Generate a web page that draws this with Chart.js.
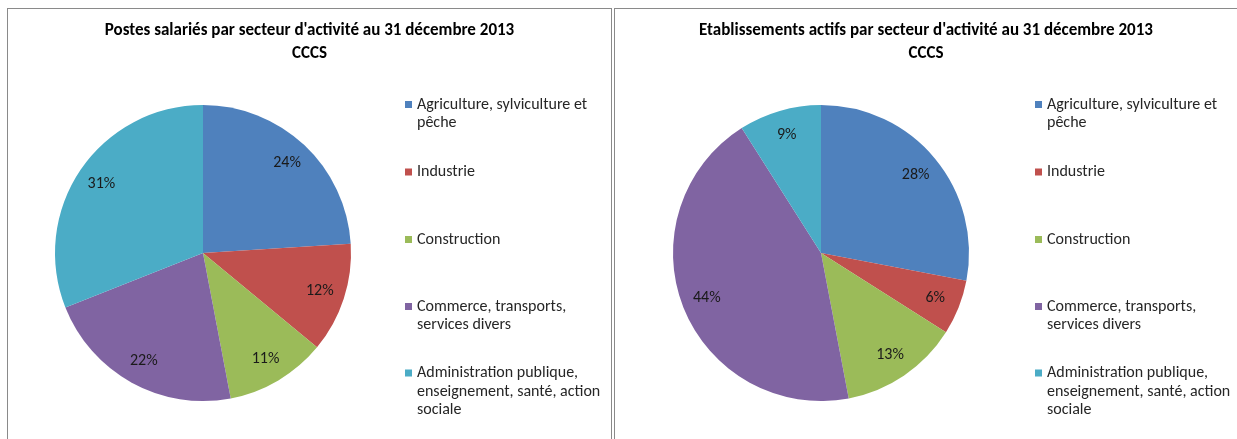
<!DOCTYPE html>
<html>
<head>
<meta charset="utf-8">
<script src="https://cdn.jsdelivr.net/npm/chart.js@4.4.0/dist/chart.umd.min.js"></script>
<style>
  body { margin: 0; background: #fff; width: 1237px; height: 439px; overflow: hidden; position: relative; }
  .panel { position: absolute; top: 8px; height: 445px; border: 1px solid #8a8a8a; box-sizing: border-box; background: #fff; }
  #p1 { left: 7px; width: 605px; }
  #p2 { left: 614px; width: 640px; }
  canvas { display: block; }
</style>
</head>
<body>
<div class="panel" id="p1"><canvas id="chartPostes" width="603" height="431"></canvas></div>
<div class="panel" id="p2"><canvas id="chartEtab" width="622" height="431"></canvas></div>

<script>
// categories (legend lines already split as in the original)
const sectors = [
  ['Agriculture, sylviculture et', 'pêche'],
  ['Industrie'],
  ['Construction'],
  ['Commerce, transports,', 'services divers'],
  ['Administration publique,', 'enseignement, santé, action', 'sociale']
];
const sectorColors = ['#4f81bd', '#c0504d', '#9bbb59', '#8064a2', '#4bacc6'];

// % of salaried jobs
const postesPct = [24, 12, 11, 22, 31];
// % of active establishments
const etabPct = [28, 6, 13, 44, 9];

const titlePostes = ["Postes salariés par secteur d'activité au 31 décembre 2013", 'CCCS'];
const titleEtab = ["Etablissements actifs par secteur d'activité au 31 décembre 2013", 'CCCS'];

const FONT = "Carlito, 'Liberation Sans Narrow', 'DejaVu Sans Condensed', sans-serif";

// title centred on the whole panel, % labels on the slices, excel style legend on the right
const pieExtras = {
  id: 'pieExtras',
  afterDatasetsDraw(chart, args, opts) {
    const ctx = chart.ctx;
    const ds = chart.data.datasets[0];
    const meta = chart.getDatasetMeta(0);
    ctx.save();
    ctx.textBaseline = 'middle';

    ctx.fillStyle = '#000';
    ctx.textAlign = 'center';
    ctx.font = 'bold 17px ' + FONT;
    opts.title.forEach((t, j) => ctx.fillText(t, chart.width / 2, 22 + j * 23));

    ctx.font = '16px ' + FONT;
    ctx.fillStyle = '#1a1a1a';
    meta.data.forEach((arc, i) => {
      const p = arc.getProps(['x', 'y', 'startAngle', 'endAngle', 'outerRadius'], true);
      const mid = (p.startAngle + p.endAngle) / 2;
      const r = p.outerRadius * 0.83;
      ctx.fillText(ds.data[i] + '%', p.x + Math.cos(mid) * r, p.y + Math.sin(mid) * r);
    });

    ctx.textAlign = 'left';
    chart.data.labels.forEach((lines, i) => {
      const y = opts.rows[i];
      ctx.fillStyle = ds.backgroundColor[i];
      ctx.fillRect(opts.x, y - 3.5, 7, 7);
      ctx.fillStyle = '#262626';
      lines.forEach((t, j) => ctx.fillText(t, opts.x + 12, y + j * opts.lineHeight));
    });
    ctx.restore();
  }
};

function makePie(id, title, values, pad, legendX) {
  new Chart(document.getElementById(id), {
    type: 'pie',
    data: {
      labels: sectors,
      datasets: [{
        data: values,
        backgroundColor: sectorColors,
        borderWidth: 0
      }]
    },
    options: {
      responsive: false,
      animation: false,
      devicePixelRatio: 1,
      layout: { padding: pad },
      plugins: {
        legend: { display: false },
        tooltip: { enabled: false },
        title: { display: false },
        pieExtras: { title: title, x: legendX, rows: [95.5, 163, 230.5, 297.5, 364], lineHeight: 18.7 }
      }
    },
    plugins: [pieExtras]
  });
}

makePie('chartPostes', titlePostes, postesPct, { left: 47, right: 260, top: 96, bottom: 39 }, 397);
makePie('chartEtab', titleEtab, etabPct, { left: 58, right: 268, top: 96, bottom: 39 }, 420);
</script>
</body>
</html>
